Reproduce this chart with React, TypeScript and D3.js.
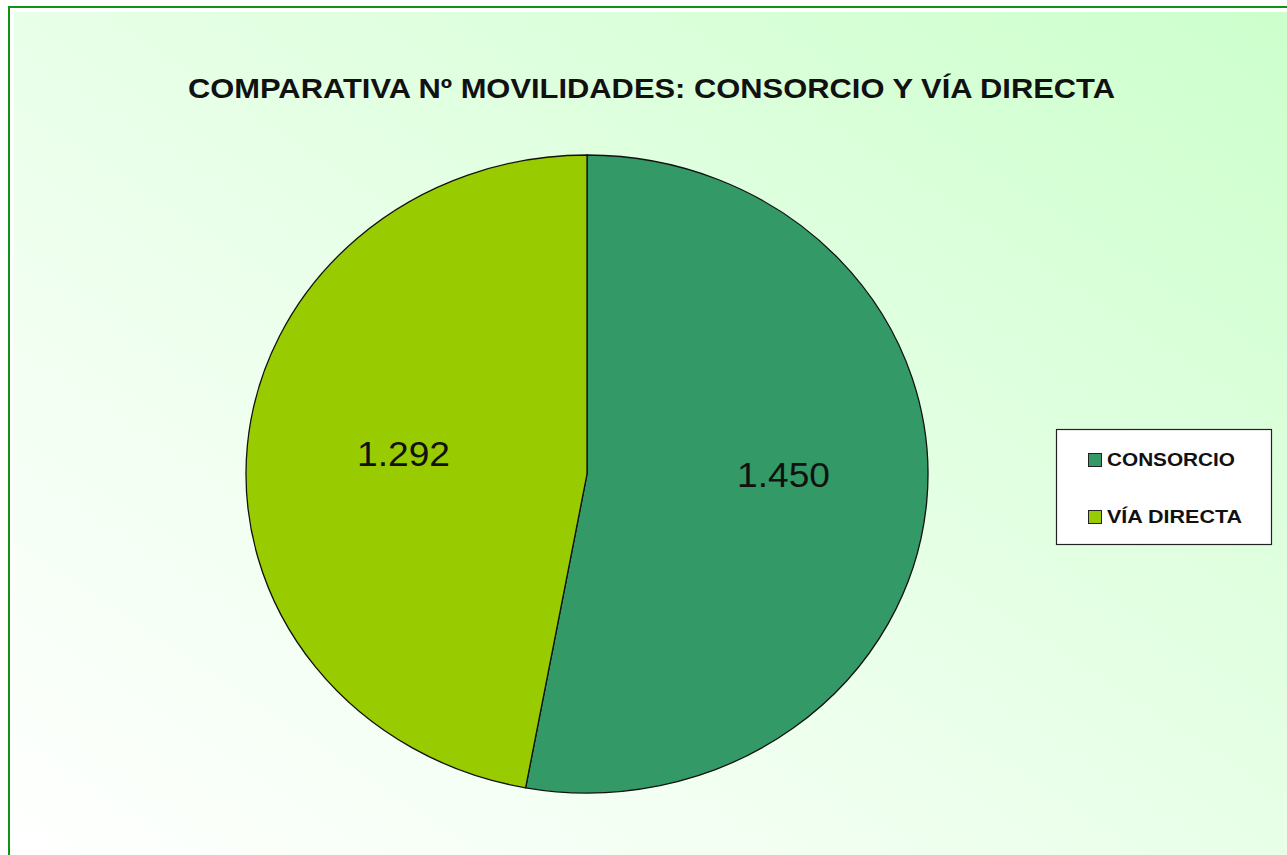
import React from "react";
import * as d3 from "d3";

const categories = ["CONSORCIO", "VÍA DIRECTA"];
const values = [1450, 1292];
const valueLabels = ["1.450", "1.292"];
const colors = ["#339966", "#99cc00"];
const title = "COMPARATIVA Nº MOVILIDADES: CONSORCIO Y VÍA DIRECTA";

const W = 1287;
const H = 855;
const cx = 587;
const cy = 474;
const ry = 319;
const rx = 341;

export default function App() {
  const pie = d3.pie<number>().sort(null).value((d) => d);
  const arcs = pie(values);
  const arc = d3.arc<d3.PieArcDatum<number>>().innerRadius(0).outerRadius(ry);
  const labelArc = d3.arc<d3.PieArcDatum<number>>().innerRadius(ry * 0.6).outerRadius(ry * 0.6);
  const sx = rx / ry;
  const labelPos = [
    [783.5, 487],
    [403.5, 466],
  ];
  return (
    <svg width={W} height={H} style={{ position: "absolute", left: 0, top: 0 }}>
      <defs>
        <linearGradient id="bg" x1="0" y1="1" x2="1" y2="0">
          <stop offset="0" stopColor="#ffffff" />
          <stop offset="0.35" stopColor="#f0fff0" />
          <stop offset="1" stopColor="#ccffcc" />
        </linearGradient>
      </defs>
      <rect x={0} y={0} width={W} height={H} fill="#ffffff" />
      <rect x={9} y={7} width={W} height={H} fill="#ffffff" stroke="#129212" strokeWidth={2} />
      <rect x={14} y={12} width={W} height={H} fill="url(#bg)" />
      <text
        x={651.5}
        y={98}
        textAnchor="middle"
        fontFamily="Liberation Sans, Arial, sans-serif"
        fontWeight="bold"
        fontSize={28}
        fill="#111"
        textLength={927}
        lengthAdjust="spacingAndGlyphs"
      >
        {title}
      </text>
      <g transform={`translate(${cx},${cy}) scale(${sx},1)`}>
        {arcs.map((a, i) => (
          <path
            key={i}
            d={arc(a) || ""}
            fill={colors[i]}
            stroke="#111"
            strokeWidth={1.3}
            vectorEffect="non-scaling-stroke"
          />
        ))}
      </g>
      {arcs.map((a, i) => {
        const [lx, ly] = labelArc.centroid(a);
        const p = labelPos[i];
        void lx; void ly;
        return (
          <text
            key={i}
            x={p[0]}
            y={p[1]}
            textAnchor="middle"
            fontFamily="Liberation Sans, Arial, sans-serif"
            fontSize={35}
            fill="#111"
            textLength={93}
            lengthAdjust="spacingAndGlyphs"
          >
            {valueLabels[i]}
          </text>
        );
      })}
      <rect x={1056.5} y={429.5} width={215} height={115} fill="#ffffff" stroke="#222" strokeWidth={1.2} />
      {categories.map((c, i) => (
        <g key={c} transform={`translate(0,${i * 57})`}>
          <rect x={1088.5} y={453.5} width={13} height={13} fill={colors[i]} stroke="#222" strokeWidth={1} />
          <text
            x={1107}
            y={466}
            fontFamily="Liberation Sans, Arial, sans-serif"
            fontWeight="bold"
            fontSize={18}
            fill="#111"
            textLength={i === 0 ? 128 : 135}
            lengthAdjust="spacingAndGlyphs"
          >
            {c}
          </text>
        </g>
      ))}
    </svg>
  );
}
